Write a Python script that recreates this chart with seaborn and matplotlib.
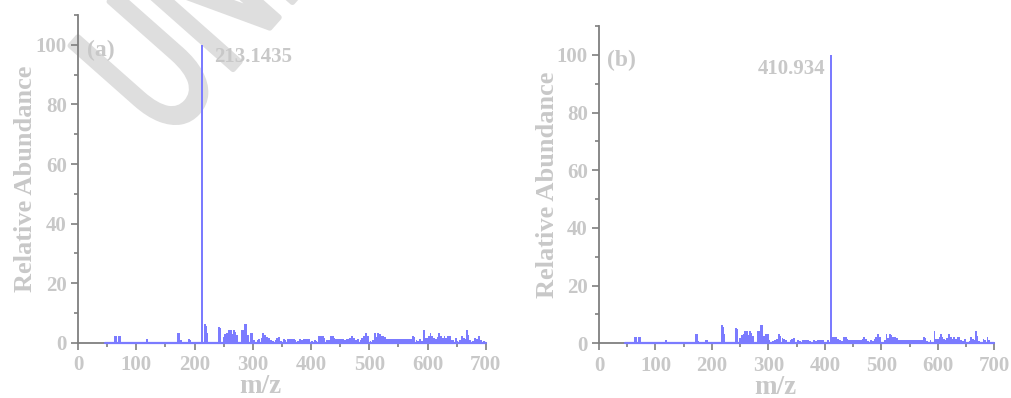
import matplotlib
matplotlib.use('Agg')
import matplotlib.pyplot as plt
import seaborn as sns
from matplotlib.ticker import MultipleLocator
from matplotlib.textpath import TextPath
from matplotlib.patches import PathPatch
from matplotlib.font_manager import FontProperties
from matplotlib.transforms import Affine2D, IdentityTransform

# background peaks (m/z, relative abundance) shared by both spectra
noise_mz = [63, 65, 70, 72, 118, 171, 173, 176, 190, 192,
            218, 220, 222, 242, 244,
            250, 253, 256, 259, 262, 265, 267, 270, 273,
            281, 284, 286, 289, 292, 296, 299, 302,
            308, 311, 315, 318, 321, 325, 328, 331, 335, 339, 342, 345, 349, 353, 356,
            361, 364, 367, 370, 373, 378, 381, 385, 388, 391, 394, 397, 402, 406, 409,
            414, 417, 420, 423, 427, 430, 434, 437, 440, 443, 446, 449, 452, 455, 458,
            461, 464, 467, 470, 473, 477, 481, 485, 488, 491, 494, 497, 502,
            506, 509, 512, 515, 518, 521, 524, 527, 530, 533, 536, 539, 542, 545, 548,
            551, 554, 557, 560, 563, 566, 569, 572, 575, 577, 581, 584, 587, 591,
            594, 597, 600, 603, 605, 608, 611, 614, 617, 620, 623, 626, 629, 632, 635,
            638, 641, 644, 648, 651, 656, 659, 662, 664, 667, 670, 673, 678, 681, 684,
            688, 691, 697]
noise_ab = [2.3, 2.3, 2.3, 2.3, 1.2, 3.2, 3.2, 0.8, 1.2, 1.0,
            6.2, 5.5, 3.3, 5.2, 5.0,
            2.0, 3.0, 3.3, 4.2, 4.2, 3.0, 4.2, 3.5, 2.5,
            4.2, 4.2, 6.2, 6.2, 2.5, 3.3, 3.3, 1.0,
            0.8, 1.2, 1.5, 3.2, 2.5, 2.0, 1.5, 1.0, 0.6, 1.0, 1.5, 2.0, 0.6, 1.2, 0.8,
            1.2, 1.3, 1.2, 1.2, 0.8, 0.6, 1.2, 0.8, 1.2, 1.3, 1.2, 1.2, 0.5, 1.0, 0.6,
            2.2, 2.2, 2.2, 1.5, 1.0, 0.8, 2.2, 2.2, 1.5, 1.2, 1.3, 1.3, 1.2, 1.3, 1.0,
            1.3, 1.2, 1.5, 2.2, 1.5, 0.8, 1.2, 0.8, 1.5, 2.2, 3.2, 2.2, 0.5,
            1.0, 3.2, 2.0, 3.2, 3.0, 2.2, 2.2, 1.8, 1.2, 1.2, 1.2, 1.2, 1.2, 1.2, 1.2,
            1.2, 1.2, 1.2, 1.2, 1.2, 1.2, 1.2, 1.2, 2.2, 2.0, 0.8, 0.5, 1.2, 0.6,
            4.2, 1.5, 1.5, 2.2, 3.2, 2.2, 1.5, 1.2, 2.0, 3.2, 2.2, 1.5, 2.2, 1.5, 2.2,
            2.2, 1.0, 0.8, 1.5, 0.5, 0.8, 2.2, 1.5, 1.2, 4.2, 2.5, 0.8, 0.5, 1.5, 1.2,
            2.2, 1.0, 0.5]

base_range = [46, 700]
main_a = [213.1435, 100]
main_b = [410.934, 100]
label_a = '213.1435'
label_b = '410.934'

blue = '#7b7bff'
txt = '#c8c8c8'
spine = '#7f7f7f'

sns.set_theme(style='ticks')
plt.rcParams['font.family'] = ['Liberation Serif', 'DejaVu Serif']
plt.rcParams['font.weight'] = 'bold'

fig = plt.figure(figsize=(10.12, 3.98), dpi=100)

# watermark
tp = TextPath((0, 0), 'UNEDITED', size=1,
              prop=FontProperties(family='Liberation Sans', weight='normal'))
tr = Affine2D().scale(200 * 0.62, 200).rotate_deg(48.5).translate(167, 254)
wm = PathPatch(tr.transform_path(tp), facecolor='#dedede', edgecolor='#dedede',
               lw=4, joinstyle='round', capstyle='round', transform=IdentityTransform(),
               zorder=-1)
fig.patches.append(wm)


def spectrum(ax, main, label, lx, ly, ha, tag, xl_y):
    ax.set_facecolor('none')
    sns.lineplot(x=base_range, y=[0, 0], ax=ax, color=blue, lw=1.6, zorder=3)
    ax.bar(noise_mz, noise_ab, width=3.3, color=blue, linewidth=0, zorder=2)
    ax.bar([main[0]], [main[1]], width=4.2, color=blue, linewidth=0, zorder=2)
    for l in ax.lines:
        l.set_clip_on(False)
    ax.set_xlim(0, 700)
    ax.set_ylim(0, 110)
    ax.xaxis.set_major_locator(MultipleLocator(100))
    ax.xaxis.set_minor_locator(MultipleLocator(50))
    ax.yaxis.set_major_locator(MultipleLocator(20))
    ax.yaxis.set_minor_locator(MultipleLocator(10))
    ax.set_yticks([0, 20, 40, 60, 80, 100])
    sns.despine(ax=ax)
    for s in ['left', 'bottom']:
        ax.spines[s].set_color(spine)
        ax.spines[s].set_linewidth(1.3)
    ax.tick_params(which='major', length=5, width=1.2, color=spine, labelsize=15,
                   labelcolor=txt, pad=3, direction='out')
    ax.tick_params(which='minor', length=3, width=1.2, color=spine, direction='out')
    ax.tick_params(axis='x', which='major', pad=4)
    for t in ax.get_xticklabels() + ax.get_yticklabels():
        t.set_fontweight('bold')
    ax.set_xlabel('m/z', fontsize=19.5, fontweight='bold', color=txt)
    ax.set_ylabel('Relative Abundance', fontsize=19, fontweight='bold', color=txt)
    ax.xaxis.set_label_coords(0.447, xl_y)
    ax.yaxis.set_label_coords(-0.10, 0.5)
    ax.text(lx, ly, label, fontsize=15, fontweight='bold', color=txt, ha=ha, va='center')
    ax.text(15, 98, tag, fontsize=17, fontweight='bold', color=txt, ha='left', va='center')


ax_a = fig.add_axes([0.0771, 0.139, 0.403, 0.823])
spectrum(ax_a, main_a, label_a, 233, 96, 'left', '(a)', -0.095)

ax_b = fig.add_axes([0.5919, 0.1374, 0.3906, 0.797])
spectrum(ax_b, main_b, label_b, 400, 95, 'right', '(b)', -0.099)

fig.savefig('out.png', dpi=100)
